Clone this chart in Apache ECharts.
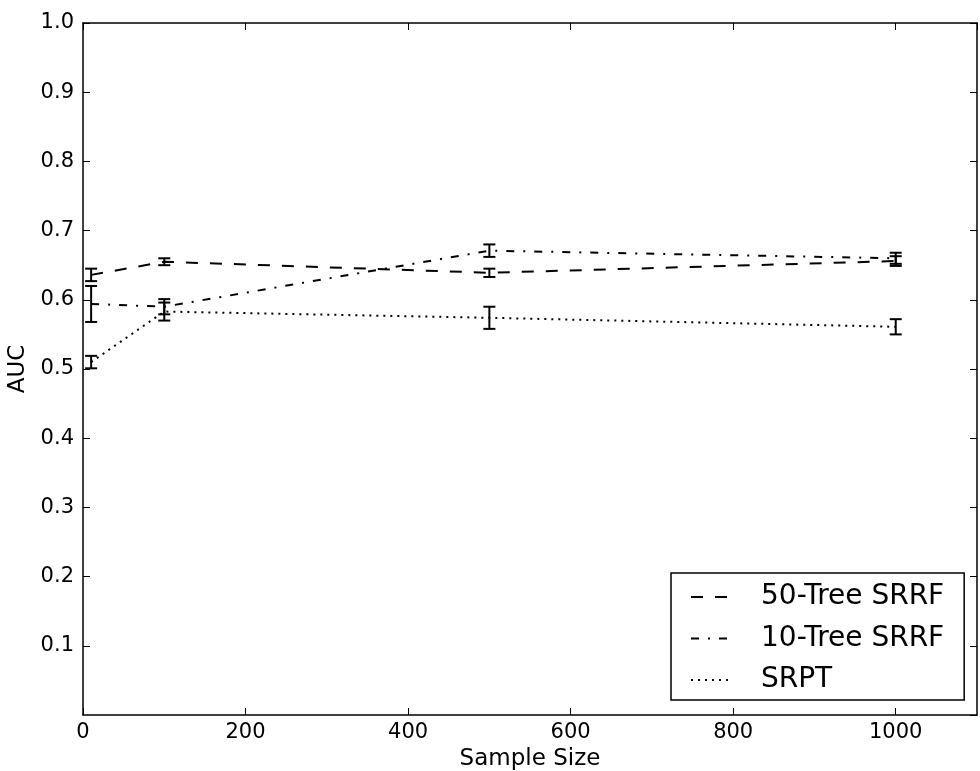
<!DOCTYPE html>
<html>
<head>
<meta charset="utf-8">
<script src="https://cdn.jsdelivr.net/npm/echarts@6/dist/echarts.min.js"></script>
<style>
  html, body { margin: 0; padding: 0; background: #fff; }
  #main { width: 980px; height: 771px; }
</style>
</head>
<body>
<div id="main"></div>
<script>
// sample sizes on the x axis
var sampleSizes = [10, 100, 500, 1000];

// AUC means and error half-widths
var tree50Auc = [0.636, 0.655, 0.639, 0.656];
var tree50Err = [0.009, 0.005, 0.006, 0.007];
var tree10Auc = [0.594, 0.590, 0.671, 0.660];
var tree10Err = [0.026, 0.011, 0.009, 0.008];
var srptAuc = [0.510, 0.583, 0.574, 0.561];
var srptErr = [0.009, 0.013, 0.016, 0.011];

var xTicks = [0, 200, 400, 600, 800, 1000];
var yTicks = [0.1, 0.2, 0.3, 0.4, 0.5, 0.6, 0.7, 0.8, 0.9, 1.0];

var font = 'DejaVu Sans';
var chart = echarts.init(document.getElementById('main'));

function pairs(xs, ys) {
  return xs.map(function (x, i) { return [x, ys[i]]; });
}
function bars(xs, ys, es) {
  return xs.map(function (x, i) { return [x, ys[i] - es[i], ys[i] + es[i]]; });
}

// vertical error bar with caps
function errorBar(params, api) {
  var lo = api.coord([api.value(0), api.value(1)]);
  var hi = api.coord([api.value(0), api.value(2)]);
  var w = 6;
  var st = { stroke: '#000', lineWidth: 2 };
  return {
    type: 'group',
    children: [
      { type: 'line', shape: { x1: lo[0], y1: lo[1], x2: hi[0], y2: hi[1] }, style: st },
      { type: 'line', shape: { x1: lo[0] - w, y1: lo[1], x2: lo[0] + w, y2: lo[1] }, style: st },
      { type: 'line', shape: { x1: hi[0] - w, y1: hi[1], x2: hi[0] + w, y2: hi[1] }, style: st }
    ]
  };
}

function lineSeries(name, data, dash) {
  return {
    name: name,
    type: 'line',
    data: data,
    symbol: 'none',
    color: '#000',
    lineStyle: { color: '#000', width: 2, type: dash },
    animation: false,
    z: 3
  };
}
function barSeries(data) {
  return {
    type: 'custom',
    renderItem: errorBar,
    data: data,
    encode: { x: 0, y: [1, 2] },
    animation: false,
    z: 4
  };
}

function pick(list, v) {
  var t = list.find(function (a) { return Math.abs(a - v) < 1e-6; });
  return t;
}

var axisLine = { show: true, onZero: false, lineStyle: { color: '#000', width: 1.5 } };
var tick = { show: true, inside: true, length: 7, lineStyle: { color: '#000', width: 1 } };

var option = {
  backgroundColor: '#fff',
  textStyle: { fontFamily: font },
  grid: { left: 83, right: 3, top: 23, bottom: 56, outerBoundsMode: 'none', containLabel: false },
  xAxis: [{
    type: 'value', min: 0, max: 1100, interval: 200,
    name: 'Sample Size', nameLocation: 'middle', nameGap: 29,
    nameTextStyle: { fontSize: 23, color: '#000', fontFamily: font },
    axisLine: axisLine, axisTick: tick,
    axisLabel: {
      fontSize: 21, color: '#000', margin: 7, showMaxLabel: false, fontFamily: font,
      formatter: function (v) {
        var t = pick(xTicks, v);
        return t === undefined ? '' : String(t);
      }
    },
    splitLine: { show: false }
  }, {
    type: 'value', min: 0, max: 1100, interval: 200, position: 'top',
    axisLine: axisLine, axisTick: tick, axisLabel: { show: false }, splitLine: { show: false }
  }],
  yAxis: [{
    type: 'value', min: 0, max: 1, interval: 0.1,
    name: 'AUC', nameLocation: 'middle', nameGap: 50,
    nameTextStyle: { fontSize: 23, color: '#000', fontFamily: font },
    axisLine: axisLine, axisTick: tick,
    axisLabel: {
      fontSize: 21, color: '#000', margin: 9, showMinLabel: false, fontFamily: font,
      formatter: function (v) {
        var t = pick(yTicks, v);
        return t === undefined ? '' : t.toFixed(1);
      }
    },
    splitLine: { show: false }
  }, {
    type: 'value', min: 0, max: 1, interval: 0.1, position: 'right',
    axisLine: axisLine, axisTick: tick, axisLabel: { show: false }, splitLine: { show: false }
  }],
  legend: {
    orient: 'vertical',
    left: 671, top: 573,
    data: ['50-Tree SRRF', '10-Tree SRRF', 'SRPT'],
    itemWidth: 42, itemHeight: 14, itemGap: 11.5,
    padding: [9, 20, 5, 19],
    borderColor: '#000', borderWidth: 1.5,
    backgroundColor: '#fff',
    itemStyle: { opacity: 0, color: 'transparent', borderWidth: 0 },
    textStyle: { fontSize: 28, color: '#000', fontFamily: font, padding: [0, 0, 0, 23], lineHeight: 30 }
  },
  series: [
    lineSeries('50-Tree SRRF', pairs(sampleSizes, tree50Auc), [12, 12]),
    lineSeries('10-Tree SRRF', pairs(sampleSizes, tree10Auc), [8, 9, 2, 9]),
    lineSeries('SRPT', pairs(sampleSizes, srptAuc), [2, 5]),
    barSeries(bars(sampleSizes, tree50Auc, tree50Err)),
    barSeries(bars(sampleSizes, tree10Auc, tree10Err)),
    barSeries(bars(sampleSizes, srptAuc, srptErr))
  ]
};
chart.setOption(option);
</script>
</body>
</html>
